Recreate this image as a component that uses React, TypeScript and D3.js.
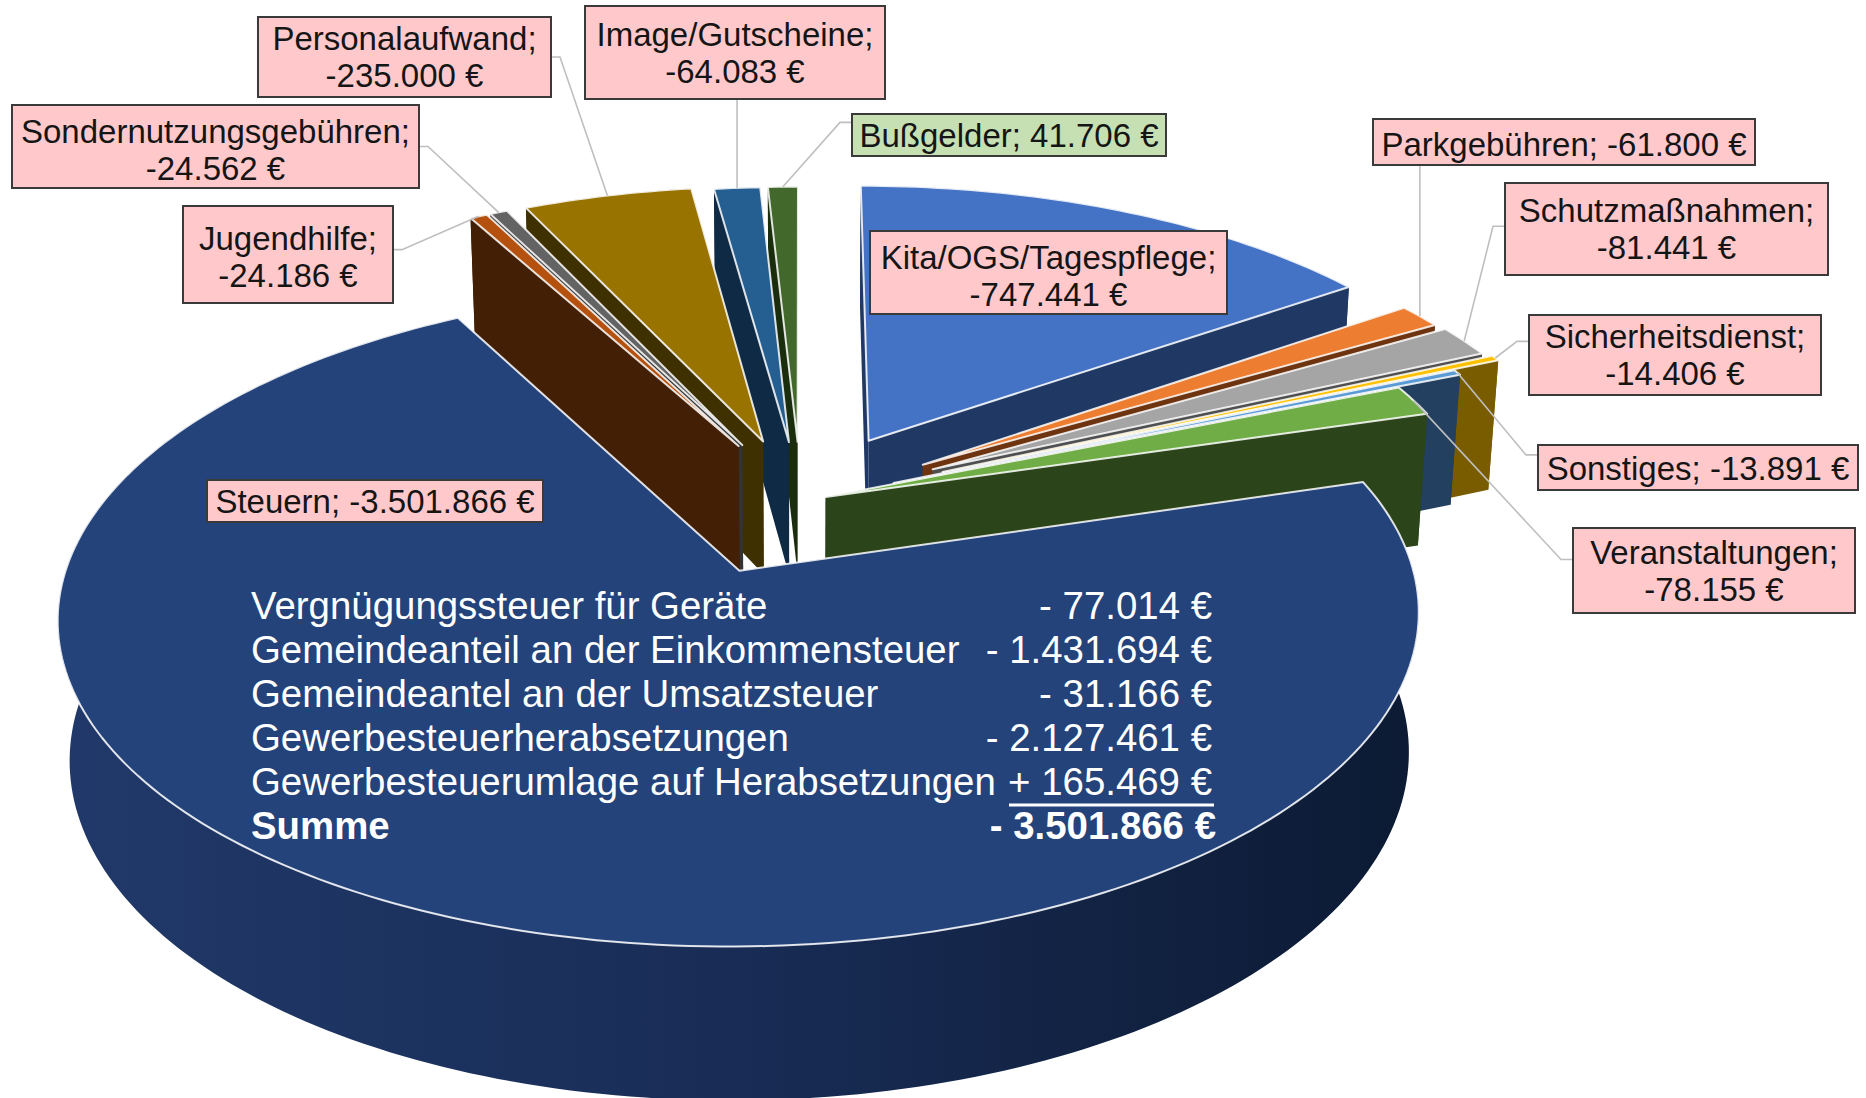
import React from 'react';
import * as d3 from 'd3';

// --- DATA ---
const categories = [
  'Kita/OGS/Tagespflege', 'Parkgebühren', 'Schutzmaßnahmen', 'Sicherheitsdienst', 'Sonstiges', 'Veranstaltungen',
  'Steuern', 'Jugendhilfe', 'Sondernutzungsgebühren', 'Personalaufwand', 'Image/Gutscheine', 'Bußgelder',
];
const values = [-747441, -61800, -81441, -14406, -13891, -78155, -3501866, -24186, -24562, -235000, -64083, 41706];
const taxLabels = [
  'Vergnügungssteuer für Geräte',
  'Gemeindeanteil an der Einkommensteuer',
  'Gemeindeantel an der Umsatzsteuer',
  'Gewerbesteuerherabsetzungen',
  'Gewerbesteuerumlage auf Herabsetzungen',
  'Summe',
];
const taxValues = [-77014, -1431694, -31166, -2127461, 165469, -3501866];

// --- STYLE / LAYOUT ---
const topColors = ['#4472C4', '#ED7D31', '#A5A5A5', '#FFC000', '#5B9BD5', '#70AD47', '#24437A', '#B5510F', '#636363', '#997300', '#255E91', '#43682B'];
const wallColors = ['#203864', '#6E3410', '#4F4F4F', '#7A5C00', '#234060', '#2B441A', '#14264A', '#421F05', '#333333', '#3F3000', '#0F2A45', '#1A2E0E'];
const explosions = [0.23, 0.225, 0.23, 0.24, 0.155, 0.04, 0.24, 0.21, 0.21, 0.21, 0.2, 0.2];
const paintOrder = [0, 1, 2, 3, 4, 5, 11, 10, 9, 8, 7, 6];

// box x, y, w, h, whether name and value break, leader side ('' = inside slice, no leader)
const labelBoxes: [number, number, number, number, boolean, string][] = [
  [870, 231, 357, 83, true, ''],
  [1373, 119, 382, 46, false, 'bottom'],
  [1505, 183, 323, 92, true, 'left'],
  [1529, 315, 292, 80, true, 'left'],
  [1538, 445, 320, 45, false, 'left'],
  [1573, 528, 282, 85, true, 'left'],
  [207, 480, 336, 42, false, ''],
  [183, 206, 210, 97, true, 'right'],
  [12, 105, 407, 83, true, 'right'],
  [258, 17, 293, 80, true, 'right'],
  [585, 6, 300, 93, true, 'bottom'],
  [852, 114, 314, 42, false, 'left'],
];
const textNudge = [3, 2, 0, 0, 0, 0, 0, 2, 3, 0, 0, 0];
const elbowAt = [0.5, 0.5, 0.47, 0.33, 0.22, 0.37, 0.5, 0.45, 0.5, 0.5, 0.5, 0.2];

const FONT = '"Liberation Sans", Arial, sans-serif';
const width = 1866;
const height = 1098;

// Projection of the tilted pie: u to the right, v away from viewer, h down into the slab
const centerX = 801;
const project = (u: number, v: number, h: number): [number, number] => {
  const w = 1.031 + 0.139 * v + 0.016 * h;
  return [centerX + (674 * u) / w, 571 - (323.6 * (v + 0.2226) - 141 * h) / w];
};

const de = d3.formatLocale({ decimal: ',', thousands: '.', grouping: [3], currency: ['', ' €'], minus: '-' });
const euro = (n: number) => `${de.format(',d')(n)} €`;
const signedEuro = (n: number) => `${n < 0 ? '-' : '+'} ${de.format(',d')(Math.abs(n))} €`;

const pieData = d3.pie<number>().sort(null).value((d) => Math.abs(d))(values);
const line = d3.line();

const slices = pieData.map((p, i) => {
  const mid = (p.startAngle + p.endAngle) / 2;
  const ou = explosions[i] * Math.sin(mid);
  const ov = explosions[i] * Math.cos(mid);
  const at = (a: number, r: number, h: number) => project(ou + r * Math.sin(a), ov + r * Math.cos(a), h);
  const steps = Math.max(2, Math.ceil((p.endAngle - p.startAngle) / 0.02));
  const angles = d3.range(steps + 1).map((k) => p.startAngle + ((p.endAngle - p.startAngle) * k) / steps);
  const rimTop = angles.map((a) => at(a, 1, 0));
  const rimBottom = angles.map((a) => at(a, 1, 1));
  const apexTop = at(0, 0, 0);
  const apexBottom = at(0, 0, 1);
  return {
    top: line([apexTop, ...rimTop])! + 'Z',
    arcWall: line([...rimTop, ...rimBottom.slice().reverse()])! + 'Z',
    startWall: line([apexTop, rimTop[0], rimBottom[0], apexBottom])! + 'Z',
    endWall: line([apexTop, rimTop[steps], rimBottom[steps], apexBottom])! + 'Z',
    anchor: at(mid, 1, 0),
  };
});

const leaderPath = (i: number) => {
  const [x, y, w, h, , side] = labelBoxes[i];
  const [ax, ay] = slices[i].anchor;
  const ey = y + h * elbowAt[i];
  if (side === 'bottom') return line([[ax, y + h], [ax, ay]]);
  if (side === 'left') return line([[x, ey], [x - 12, ey], [ax, ay]]);
  return line([[x + w, ey], [x + w + 9, ey], [ax, ay]]);
};

export default function App() {
  return (
    <svg width={width} height={height} style={{ position: 'absolute', left: 0, top: 0, background: '#fff', display: 'block' }} fontFamily={FONT}>
      <defs>
        <linearGradient id="mainWall" gradientUnits="userSpaceOnUse" x1={60} x2={1417} y1={0} y2={0}>
          <stop offset="0" stopColor="#21396A" />
          <stop offset="0.5" stopColor="#182C55" />
          <stop offset="1" stopColor="#0C1A33" />
        </linearGradient>
      </defs>

      {paintOrder.map((i) => {
        const s = slices[i];
        const wall = i === 6 ? 'url(#mainWall)' : wallColors[i];
        return (
          <g key={categories[i]}>
            <path d={s.arcWall} fill={wall} />
            <path d={s.startWall} fill={wall} />
            <path d={s.endWall} fill={wall} />
            <path d={s.top} fill={topColors[i]} stroke="#fff" strokeOpacity={0.85} strokeWidth={2} strokeLinejoin="round" />
          </g>
        );
      })}

      {/* leaders */}
      {labelBoxes.map((b, i) => (b[5] ? <path key={i} d={leaderPath(i)!} fill="none" stroke="#BFBFBF" strokeWidth={1.6} /> : null))}

      {/* data labels */}
      {labelBoxes.map(([x, y, w, h, broken], i) => (
        <g key={categories[i]}>
          <rect x={x} y={y} width={w} height={h} fill={values[i] < 0 ? '#FFC9CC' : '#C6E0B4'} stroke="#3A3A3A" strokeWidth={2} />
          <text x={x + w / 2} textAnchor="middle" fontSize={33} fill="#151515">
            {broken ? (
              <>
                <tspan x={x + w / 2} y={y + h / 2 - 7 + textNudge[i]}>{categories[i]};</tspan>
                <tspan x={x + w / 2} y={y + h / 2 + 30 + textNudge[i]}>{euro(values[i])}</tspan>
              </>
            ) : (
              <tspan x={x + w / 2} y={y + h / 2 + 12 + textNudge[i]}>{`${categories[i]}; ${euro(values[i])}`}</tspan>
            )}
          </text>
        </g>
      ))}

      {/* tax breakdown */}
      {taxLabels.map((label, i) => {
        const y = 619 + i * 44;
        const bold = i === taxLabels.length - 1;
        return (
          <g key={label} fill="#fff" fontSize={38.4} fontWeight={bold ? 700 : 400}>
            <text x={251} y={y}>{label}</text>
            <text x={bold ? 1216 : 1212} y={y} textAnchor="end">{signedEuro(taxValues[i])}</text>
          </g>
        );
      })}
      <line x1={1009} x2={1214} y1={805} y2={805} stroke="#fff" strokeWidth={3} />
    </svg>
  );
}
